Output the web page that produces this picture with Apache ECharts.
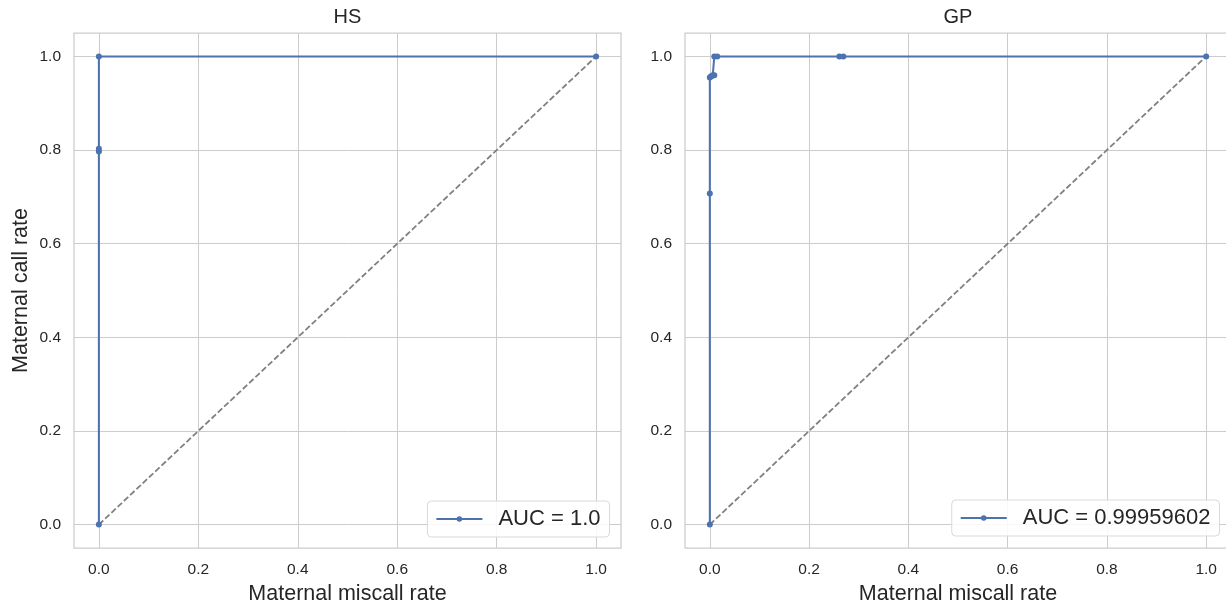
<!DOCTYPE html>
<html>
<head>
<meta charset="utf-8">
<script src="https://cdn.jsdelivr.net/npm/echarts@6/dist/echarts.min.js"></script>
<style>
html,body{margin:0;padding:0;background:#fff;}
#chart{width:1226px;height:604px;}
</style>
</head>
<body>
<div id="chart"></div>
<script>
// ---- data ----
const panelTitles = ['HS', 'GP'];
const tickValues = [0, 0.2, 0.4, 0.6, 0.8, 1.0];
const hsMiscall = [0, 0, 0, 0, 1];
const hsCall = [0, 0.797, 0.803, 1, 1];
const gpMiscall = [0, 0, 0, 0.002, 0.004, 0.006, 0.009, 0.009, 0.015, 0.261, 0.269, 1];
const gpCall = [0, 0.707, 0.955, 0.957, 0.958, 0.96, 0.96, 1.0, 1.0, 1.0, 1.0, 1.0];
const legendNames = ['AUC = 1.0', 'AUC = 0.99959602'];
const chanceX = [0, 1];
const chanceY = [0, 1];
const xName = 'Maternal miscall rate';
const yName = 'Maternal call rate';

// ---- styles ----
const FONT = '"Liberation Sans", Arial, sans-serif';
const TEXT = '#262626';
const GRIDC = '#cccccc';
const BLUE = '#4c72b0';

const zip = (a, b) => a.map((v, i) => [v, b[i]]);

const grids = [
  { left: 74, width: 547, top: 33, height: 515, outerBoundsMode: 'none', containLabel: false,
    show: true, borderColor: GRIDC, borderWidth: 1.25, backgroundColor: '#fff' },
  { left: 685, width: 546, top: 33, height: 515, outerBoundsMode: 'none', containLabel: false,
    show: true, borderColor: GRIDC, borderWidth: 1.25, backgroundColor: '#fff' }
];

function xAxis(i) {
  return {
    type: 'value', gridIndex: i, min: -0.05, max: 1.05,
    name: xName, nameLocation: 'middle', nameGap: 30,
    nameTextStyle: { fontFamily: FONT, fontSize: 21.5, color: TEXT },
    axisLine: { show: false },
    axisTick: { show: false, customValues: tickValues },
    axisLabel: { customValues: tickValues, fontFamily: FONT, fontSize: 15.5, color: TEXT, margin: 14,
      formatter: v => v.toFixed(1) },
    splitLine: { show: true, lineStyle: { color: GRIDC, width: 1 } }
  };
}
function yAxis(i) {
  return {
    type: 'value', gridIndex: i, min: -0.05, max: 1.05,
    name: i === 0 ? yName : '', nameLocation: 'middle', nameGap: 42,
    nameTextStyle: { fontFamily: FONT, fontSize: 21.5, color: TEXT },
    axisLine: { show: false },
    axisTick: { show: false, customValues: tickValues },
    axisLabel: { customValues: tickValues, fontFamily: FONT, fontSize: 15.5, color: TEXT, margin: 13,
      formatter: v => v.toFixed(1) },
    splitLine: { show: true, lineStyle: { color: GRIDC, width: 1 } }
  };
}

function rocSeries(i, name, xs, ys) {
  return {
    type: 'line', name: name, xAxisIndex: i, yAxisIndex: i,
    data: zip(xs, ys), symbol: 'circle', symbolSize: 6, showAllSymbol: true,
    lineStyle: { color: BLUE, width: 2 }, itemStyle: { color: BLUE },
    z: 3, animation: false
  };
}
function chanceSeries(i) {
  return {
    type: 'line', xAxisIndex: i, yAxisIndex: i,
    data: zip(chanceX, chanceY), symbol: 'none', silent: true,
    lineStyle: { color: '#808080', width: 1.8, type: [6, 2.6] },
    z: 2, animation: false
  };
}

function legend(name, right, bottom) {
  return {
    data: [name], right: right, bottom: bottom, orient: 'vertical',
    itemWidth: 46, itemHeight: 7,
    padding: [7, 9, 7, 8],
    backgroundColor: 'rgba(255,255,255,0.85)', borderColor: '#d9d9d9', borderWidth: 1, borderRadius: 4,
    textStyle: { fontFamily: FONT, fontSize: 22, color: TEXT, padding: [0, 0, 0, 11] },
    selectedMode: false
  };
}

const option = {
  animation: false,
  backgroundColor: '#fff',
  title: [
    { text: panelTitles[0], left: 347.5, top: 7.5, textAlign: 'center', padding: 0,
      textStyle: { fontFamily: FONT, fontSize: 20, fontWeight: 'normal', color: TEXT } },
    { text: panelTitles[1], left: 958, top: 7.5, textAlign: 'center', padding: 0,
      textStyle: { fontFamily: FONT, fontSize: 20, fontWeight: 'normal', color: TEXT } }
  ],
  grid: grids,
  xAxis: [xAxis(0), xAxis(1)],
  yAxis: [yAxis(0), yAxis(1)],
  legend: [legend(legendNames[0], 616.5, 67), legend(legendNames[1], 6.5, 68)],
  series: [
    chanceSeries(0),
    rocSeries(0, legendNames[0], hsMiscall, hsCall),
    chanceSeries(1),
    rocSeries(1, legendNames[1], gpMiscall, gpCall)
  ]
};

const chart = echarts.init(document.getElementById('chart'), null, { renderer: 'canvas' });
chart.setOption(option);
</script>
</body>
</html>
